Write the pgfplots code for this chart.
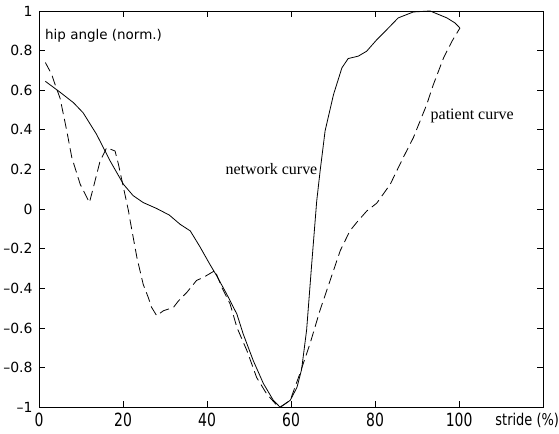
\documentclass[border=0pt]{standalone}
\usepackage{fontspec}
\setmainfont{DejaVu Sans}
\newfontfamily\seriffont{Liberation Serif}
\usepackage{graphicx}
\usepackage{pgfplots}
\pgfplotsset{compat=1.18}

\begin{document}
\begin{tikzpicture}
\begin{axis}[
    width=505pt, height=397pt, scale only axis,
    xmin=0, xmax=120, ymin=-1, ymax=1,
    xtick={0,20,40,60,80,100},
    ytick={-1,-0.8,-0.6,-0.4,-0.2,0,0.2,0.4,0.6,0.8,1},
    yticklabels={--1,--0.8,--0.6,--0.4,--0.2,0,0.2,0.4,0.6,0.8,1},
    xticklabel={\scalebox{1}[1.3]{\axisdefaultticklabel}},
    tick align=inside,
    major tick length=6pt,
    axis line style={line width=0.8pt},
    tick style={line width=0.8pt, black},
    ticklabel style={font=\fontsize{14}{17}\selectfont},
    xticklabel style={inner sep=0.5pt, yshift=-5pt},
    yticklabel style={xshift=-3pt},
    /pgf/number format/assume math mode=true,
    clip=false
]
% network curve
\addplot[black, line width=0.8pt] coordinates {
(1.5,0.645) (5,0.59) (8.2,0.537) (10.5,0.486) (13.7,0.377) (16.9,0.244)
(20.1,0.125) (22.4,0.068) (24.8,0.033) (28,0.003) (31,-0.03) (33.6,-0.077)
(36,-0.11) (38.3,-0.19) (40.7,-0.28) (42.3,-0.337) (44.7,-0.43) (47.1,-0.53)
(48.6,-0.63) (51,-0.765) (53.4,-0.88) (55.8,-0.966) (57.4,-1.0) (59.8,-0.965)
(61.4,-0.9) (62.5,-0.81) (63.7,-0.61) (64.9,-0.28) (66.1,0.04) (66.9,0.19)
(68.1,0.395) (70.1,0.578) (72.1,0.713) (73.6,0.76) (76,0.772) (78,0.797)
(80.4,0.855) (82.8,0.906) (85.5,0.965) (89.1,0.995) (93.1,1.0) (97.1,0.965)
(99,0.94) (100.2,0.914)
};
% patient curve
\addplot[black, line width=0.8pt, dash pattern=on 10pt off 5pt] coordinates {
(1.5,0.74) (3,0.68) (3.8,0.63) (5,0.56) (6.6,0.395) (7.8,0.26) (9.8,0.125)
(12,0.033) (13.3,0.14) (14.5,0.24) (16.1,0.31) (18.1,0.293) (18.9,0.226)
(20.1,0.108) (21.3,-0.01) (21.7,-0.06) (23.3,-0.245) (24.8,-0.38) (26,-0.446)
(26.8,-0.496) (28,-0.538) (29.6,-0.513) (32,-0.496) (33.2,-0.463) (35.2,-0.42)
(37.5,-0.36) (39.1,-0.345) (41.9,-0.31) (43.5,-0.395) (45.5,-0.48) (47.1,-0.597)
(49.5,-0.715) (51.8,-0.85) (54.2,-0.933) (56.6,-0.99) (57.4,-1.0) (59.8,-0.965)
(62.1,-0.83) (64.5,-0.68) (66.9,-0.51) (69.3,-0.36) (71.7,-0.21) (74,-0.11)
(75.6,-0.068) (78,-0.01) (80.4,0.03) (83.6,0.125) (86.7,0.26) (89.1,0.36)
(90.7,0.444) (92.3,0.528) (93.9,0.63) (96.3,0.763) (98.3,0.847) (100.2,0.914)
};
\node[anchor=west, font=\fontsize{13.5}{16}\selectfont, inner sep=0pt] at (axis cs:1.4,0.875) {hip angle (norm.)};
\node[anchor=east, font=\seriffont\fontsize{16}{19}\selectfont, inner sep=0pt] at (axis cs:66.3,0.2) {network curve};
\node[anchor=west, font=\seriffont\fontsize{16}{19}\selectfont, inner sep=0pt] at (axis cs:93.2,0.47) {patient curve};
\node[anchor=north west, font=\fontsize{13}{16}\selectfont, inner sep=0pt, yshift=-5.5pt] at (axis cs:108.6,-1) {\scalebox{1}[1.25]{stride (\%)}};
% white margins above the box and below the tick labels
\path (rel axis cs:0,1) -- ++(0pt,11pt);
\path (rel axis cs:0,0) -- ++(0pt,-26pt);
\end{axis}
\end{tikzpicture}
\end{document}
